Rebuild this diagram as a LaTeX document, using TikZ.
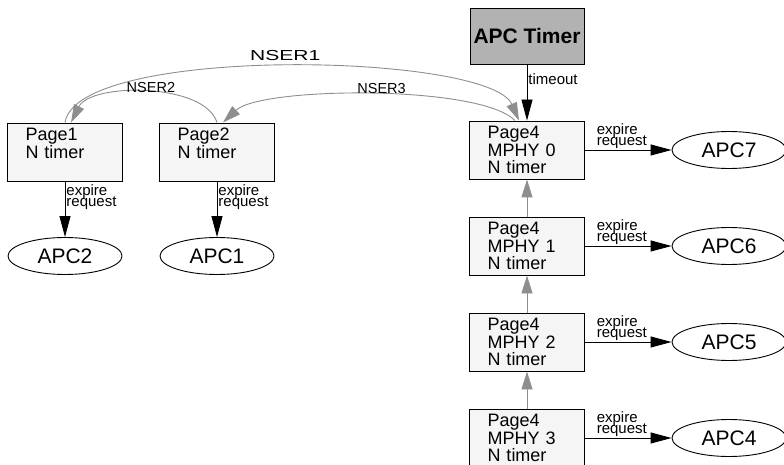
\documentclass[tikz,border=0pt]{standalone}
\usepackage{fontspec}
\setmainfont{Liberation Sans}
\usepackage{tikz}
\usetikzlibrary{arrows.meta, calc, shapes.geometric}

\definecolor{boxfill}{HTML}{F5F5F5}
\definecolor{timerfill}{HTML}{B2B2B2}
\definecolor{linkgray}{HTML}{8E8E8E}

\begin{document}
\begin{tikzpicture}[x=1pt, y=-1pt, line width=0.9pt,
    pagebox/.style={draw, fill=boxfill, text width=79pt, inner xsep=18pt, inner ysep=0pt,
        minimum height=58pt, align=left, font=\fontsize{18}{17.5}\selectfont},
    timerbox/.style={draw, fill=timerfill, minimum width=114pt, minimum height=56pt,
        font=\fontsize{21}{21}\selectfont\bfseries},
    apcnode/.style={draw, ellipse, minimum width=114pt, minimum height=37pt, inner sep=0pt,
        font=\fontsize{21}{21}\selectfont},
    blkarrow/.style={-{Triangle[length=21pt, width=11pt]}},
    grayarrow/.style={draw=linkgray, -{Triangle[length=18pt, width=11pt]}, color=linkgray},
    smalllbl/.style={inner sep=1pt, align=left, font=\fontsize{15}{15}\selectfont},
    nserlbl/.style={inner sep=0pt, font=\fontsize{14.5}{14.5}\selectfont}]
    \useasboundingbox (0,0) rectangle (784,465);

    % --- TIMER AND PAGE4 CHAIN (RIGHT) ---
    \node[timerbox] (timer) at (527,36) {APC Timer};
    \node[pagebox] (p4a) at (527,150) {Page4\\MPHY 0\\N timer};
    \node[pagebox] (p4b) at (527,246) {Page4\\MPHY 1\\N timer};
    \node[pagebox] (p4c) at (527,342) {Page4\\MPHY 2\\N timer};
    \node[pagebox] (p4d) at (527,438) {Page4\\MPHY 3\\N timer};

    \node[apcnode] (apc7) at (729,150) {APC7};
    \node[apcnode] (apc6) at (729,246) {APC6};
    \node[apcnode] (apc5) at (729,342) {APC5};
    \node[apcnode] (apc4) at (729,438) {APC4};

    % --- PAGE1 / PAGE2 (LEFT) ---
    \node[pagebox] (p1) at (65,152) {Page1\\N timer\\\phantom{N}};
    \node[pagebox] (p2) at (217,152) {Page2\\N timer\\\phantom{N}};
    \node[apcnode] (apc2) at (65,256) {APC2};
    \node[apcnode] (apc1) at (217,256) {APC1};

    % Expire requests
    \draw[blkarrow] (timer) -- (p4a) node[smalllbl, pos=0.14, anchor=north west] {timeout};
    \foreach \src/\dst in {p4a/apc7, p4b/apc6, p4c/apc5, p4d/apc4}
        \draw[blkarrow] (\src) -- (\dst) node[smalllbl, pos=0.12, anchor=south west] {expire\\[-4pt]request};
    \foreach \src/\dst in {p1/apc2, p2/apc1}
        \draw[blkarrow] (\src) -- (\dst) node[smalllbl, pos=0.04, anchor=north west] {expire\\[-4pt]request};

    % Chain links
    \draw[grayarrow] (p4d) -- (p4c);
    \draw[grayarrow] (p4c) -- (p4b);
    \draw[grayarrow] (p4b) -- (p4a);

    % NSER curves
    \draw[grayarrow] (p1.north) .. controls +(12,-78) and +(-30,-68) .. ($(p4a.north)+(-8,0)$)
        node[nserlbl, midway, above=6pt, text=black] {\scalebox{1.45}[1]{NSER1}};
    \draw[grayarrow] (p2.north) .. controls +(-12,-40) and +(20,-40) .. ($(p1.north)+(6,0)$)
        node[nserlbl, pos=0.48, anchor=south, text=black] {NSER2};
    \draw[grayarrow] ($(p4a.north)+(-12,0)$) .. controls +(-35,-36) and +(38,-36) .. ($(p2.north)+(6,0)$)
        node[nserlbl, pos=0.47, anchor=south, text=black] {NSER3};
\end{tikzpicture}
\end{document}
